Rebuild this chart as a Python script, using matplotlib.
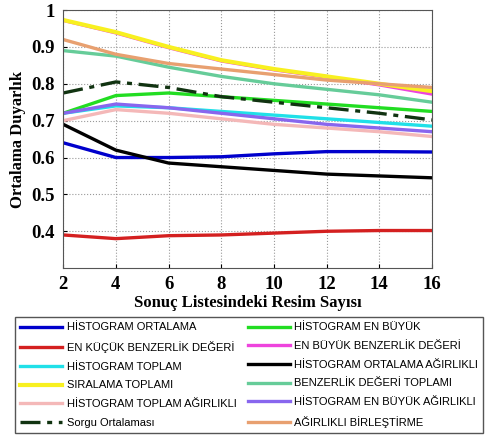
import numpy as np
import matplotlib.pyplot as plt

x = [2, 4, 6, 8, 10, 12, 14, 16]

hist_ort = [0.640, 0.600, 0.600, 0.602, 0.610, 0.616, 0.616, 0.615]
en_kucuk = [0.390, 0.380, 0.388, 0.390, 0.395, 0.400, 0.402, 0.402]
hist_toplam = [0.720, 0.740, 0.735, 0.725, 0.715, 0.705, 0.695, 0.685]
siralama = [0.973, 0.940, 0.900, 0.864, 0.840, 0.820, 0.800, 0.780]
hist_top_agr = [0.700, 0.730, 0.720, 0.705, 0.690, 0.680, 0.670, 0.657]
sorgu = [0.775, 0.805, 0.790, 0.765, 0.750, 0.735, 0.720, 0.702]
hist_enb = [0.720, 0.768, 0.775, 0.765, 0.755, 0.745, 0.735, 0.725]
enb_benz = [0.972, 0.938, 0.898, 0.862, 0.838, 0.818, 0.797, 0.772]
hist_ort_agr = [0.690, 0.620, 0.585, 0.575, 0.565, 0.555, 0.550, 0.545]
benz_toplam = [0.890, 0.875, 0.845, 0.820, 0.800, 0.785, 0.770, 0.750]
hist_enb_agr = [0.720, 0.745, 0.735, 0.720, 0.705, 0.690, 0.680, 0.670]
agr_birles = [0.920, 0.880, 0.855, 0.840, 0.825, 0.810, 0.800, 0.790]

fig = plt.figure(figsize=(4.86, 4.36), dpi=100)
ax = fig.add_axes([0.130, 0.385, 0.759, 0.592])

lw = 2.4
h = {}
h['a'] = ax.plot(x, hist_ort, color='#0000cc', lw=lw, label='HİSTOGRAM ORTALAMA')[0]
h['b'] = ax.plot(x, en_kucuk, color='#d42020', lw=lw, label='EN KÜÇÜK BENZERLİK DEĞERİ')[0]
h['c'] = ax.plot(x, hist_toplam, color='#20e0e8', lw=lw, label='HİSTOGRAM TOPLAM')[0]
h['d'] = ax.plot(x, enb_benz, color='#ee44dd', lw=lw, label='EN BÜYÜK BENZERLİK DEĞERİ')[0]
h['e'] = ax.plot(x, siralama, color='#f8f020', lw=lw + 0.6, label='SIRALAMA TOPLAMI')[0]
h['f'] = ax.plot(x, hist_top_agr, color='#f4b8b8', lw=lw, label='HİSTOGRAM TOPLAM AĞIRLIKLI')[0]
h['g'] = ax.plot(x, hist_enb, color='#22dd22', lw=lw, label='HİSTOGRAM EN BÜYÜK')[0]
h['h'] = ax.plot(x, hist_ort_agr, color='black', lw=lw, label='HİSTOGRAM ORTALAMA AĞIRLIKLI')[0]
h['i'] = ax.plot(x, benz_toplam, color='#66cc99', lw=lw, label='BENZERLİK DEĞERİ TOPLAMI')[0]
h['j'] = ax.plot(x, hist_enb_agr, color='#8866ee', lw=lw, label='HİSTOGRAM EN BÜYÜK AĞIRLIKLI')[0]
h['k'] = ax.plot(x, agr_birles, color='#e8a070', lw=lw, label='AĞIRLIKLI BİRLEŞTİRME')[0]
h['l'] = ax.plot(x, sorgu, color='#113311', lw=2.4, ls=(0, (6, 2, 1.5, 2)), label='Sorgu Ortalaması')[0]

ax.set_xlim(2, 16)
ax.set_ylim(0.3, 1.0)
ax.set_xticks(np.arange(2, 17, 2))
ax.set_yticks([0.4, 0.5, 0.6, 0.7, 0.8, 0.9, 1.0])
ax.set_yticklabels(['0.4', '0.5', '0.6', '0.7', '0.8', '0.9', '1'])
ax.grid(True, ls=':', color='#999999', lw=0.8)
ax.tick_params(direction='in', labelsize=13.5, length=3, pad=6)
for lab in ax.get_xticklabels() + ax.get_yticklabels():
    lab.set_fontfamily('Liberation Serif')
    lab.set_fontweight('bold')
for s in ax.spines.values():
    s.set_color('#555555')

ax.set_xlabel('Sonuç Listesindeki Resim Sayısı', fontfamily='Liberation Serif',
              fontweight='bold', fontsize=12, labelpad=1)
ax.set_ylabel('Ortalama Duyarlık', fontfamily='Liberation Serif',
              fontweight='bold', fontsize=12, labelpad=4)

order = ['a', 'b', 'c', 'e', 'f', 'l', 'g', 'd', 'h', 'i', 'j', 'k']
leg = fig.legend([h[k] for k in order], [h[k].get_label() for k in order],
                 ncol=2, loc='upper left', bbox_to_anchor=(0.031, 0.01, 0.963, 0.262),
                 mode='expand', prop={'family': 'Liberation Sans', 'size': 8},
                 handlelength=3.8, handletextpad=0.4, labelspacing=0.78,
                 columnspacing=0.4, borderpad=0.45, borderaxespad=0.0,
                 fancybox=False, edgecolor='#555555', framealpha=1)

fig.savefig('out.png', dpi=100)
